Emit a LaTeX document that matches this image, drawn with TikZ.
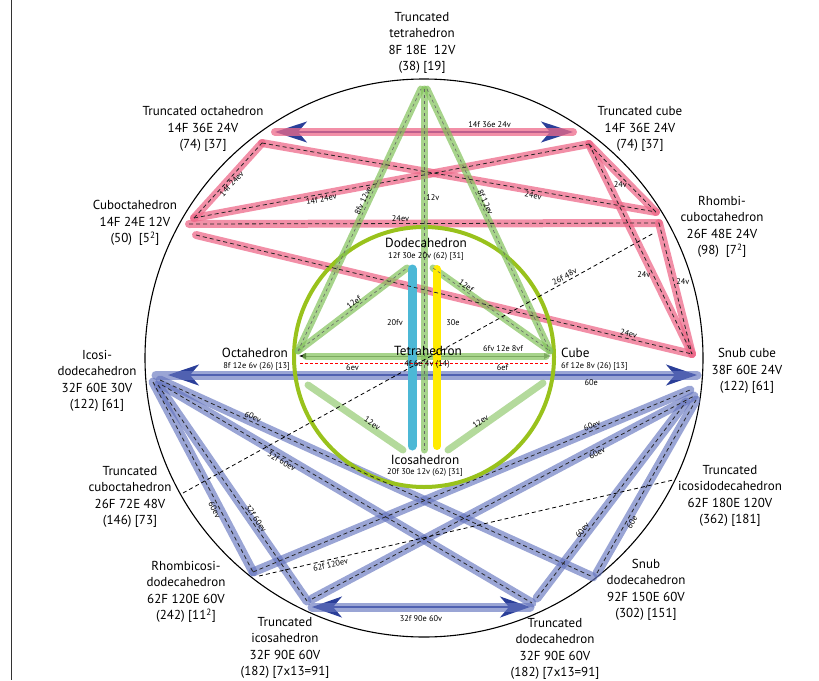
\documentclass[tikz,border=0pt]{standalone}
\usepackage{fontspec}
\setmainfont{PT Sans}
\usetikzlibrary{arrows.meta}
\definecolor{rule-line}{HTML}{333333}
\definecolor{pink-band}{HTML}{EE6A8A}
\definecolor{blue-band}{HTML}{6474BE}
\definecolor{green-band}{HTML}{82C25A}
\definecolor{lime-ring}{HTML}{99C21C}
\definecolor{cyan-bar}{HTML}{4CB8D6}
\definecolor{yellow-bar}{HTML}{FFEB00}
\definecolor{arrow-blue}{HTML}{2B3F99}
\tikzset{
  pband/.style={draw=pink-band, draw opacity=0.75, line width=8pt, line cap=round},
  bband/.style={draw=blue-band, draw opacity=0.65, line width=9pt, line cap=round},
  gband/.style={draw=green-band, draw opacity=0.7, line width=7pt, line cap=round},
  cdash/.style={draw=black!85, line width=0.8pt, dash pattern=on 4pt off 3pt},
  gdash/.style={draw=black!60, line width=0.6pt, dash pattern=on 3pt off 3pt},
  darrow/.style={draw=arrow-blue, line width=2.5pt,
    {Stealth[length=#1, width=21pt, inset=9pt]}-{Stealth[length=#1, width=21pt, inset=9pt]}},
  plabel/.style={font=\fontsize{13}{16.4}\selectfont, align=center, inner sep=0pt},
  ilabel/.style={font=\fontsize{13.2}{14}\selectfont, inner sep=0pt},
  isub/.style={font=\fontsize{8.4}{9}\selectfont, inner sep=0pt},
  elabel/.style={font=\fontsize{8.3}{9}\selectfont, text=black, inner sep=1.5pt, sloped},
  hlabel/.style={font=\fontsize{8.3}{9}\selectfont, text=black, inner sep=2pt}
}

\begin{document}
\begin{tikzpicture}[x=1pt, y=-1pt]
  \useasboundingbox (0,0) rectangle (819,680);

  % ---- Frame: rule on the left, outer circle --------------------------------
  \draw[rule-line, line width=1.2pt] (11.5,0) -- (11.5,680);
  \draw[black, line width=1.1pt] (424,358) circle[radius=279];

  % ---- Vertex points --------------------------------------------------------
  % pink group
  \coordinate (to-tip) at (275,132);
  \coordinate (tc-tip) at (573,132);
  \coordinate (to)     at (262,143);
  \coordinate (tc)     at (589,144);
  \coordinate (co-a)   at (194,218);
  \coordinate (co-b)   at (189,224);
  \coordinate (co-c)   at (196,235);
  \coordinate (rc-a)   at (656,212);
  \coordinate (rc-b)   at (659,223);
  \coordinate (sc)     at (692,354);
  % blue group
  \coordinate (id-tip)  at (168,375);
  \coordinate (snc-tip) at (697,375);
  \coordinate (id-1) at (160,380);
  \coordinate (id-2) at (162,385);
  \coordinate (id-3) at (153,382);
  \coordinate (id-4) at (158,385);
  \coordinate (snc-1) at (690,390);
  \coordinate (snc-2) at (694,396);
  \coordinate (snc-3) at (686,402);
  \coordinate (snc-4) at (696,400);
  \coordinate (ri)   at (253,572);
  \coordinate (ti-1) at (307,601);
  \coordinate (ti-2) at (312,599);
  \coordinate (td-1) at (532,603);
  \coordinate (td-2) at (537,598);
  \coordinate (sd-1) at (593,577);
  \coordinate (sd-2) at (597,573);
  \coordinate (ti-tip) at (312,607);
  \coordinate (td-tip) at (530,607);
  % green group
  \coordinate (tt-l) at (421,89);
  \coordinate (tt-m) at (424,89);
  \coordinate (tt-r) at (427,89);
  \coordinate (oct)  at (298,351);
  \coordinate (cube) at (550,351);
  \coordinate (oct-h)  at (299,356);
  \coordinate (cube-h) at (551,356);
  \coordinate (dod-l) at (407,268);
  \coordinate (dod-r) at (433,268);
  \coordinate (oct-lo)  at (308,385);
  \coordinate (ico-l)   at (403,450);
  \coordinate (ico-m)   at (424,450);
  \coordinate (ico-r)   at (448,450);
  \coordinate (cube-lo) at (543,383);
  % loose dashed lines
  \coordinate (rc-d)  at (654,233);
  \coordinate (tco-d) at (183,493);
  \coordinate (ri-d)  at (259,576);
  \coordinate (tid-d) at (673,480);
  \coordinate (oct-r)  at (300,363);
  \coordinate (cube-r) at (550,363);

  % ---- Edge lists: from/to/pos/anchor/label ---------------------------------
  \def\pinkedges{co-a/to/0.5/north/14f 24ev, to/rc-a/0.69/north/24ev,
    co-a/tc/0.32/north/14f 24ev, co-b/rc-b/0.45/south/24ev,
    co-c/sc/0.87/south/24ev}
  \def\pinkshort{tc/rc-a/0.6/east, tc/sc/0.62/east, rc-b/sc/0.45/west}
  \def\blueedges{id-1/sd-1/0.21/south/60ev, id-2/td-1/0.33/north/32f 60ev,
    id-3/ri/0.66/north/60ev, id-4/ti-1/0.63/south/32f 60ev,
    ri/snc-1/0.78/south/60ev, ti-2/snc-2/0.74/north/60ev,
    td-2/snc-3/0.33/south/60ev, sd-2/snc-4/0.31/north/60e}
  \def\greenedges{oct/tt-l/0.565/south/8fv 12ve, tt-r/cube/0.44/south/8f 12ev,
    oct/dod-l/0.54/south/12ef, dod-r/cube/0.26/south/12ef}
  \def\greenplain{oct-lo/ico-l/0.65/south/12ev, ico-r/cube-lo/0.37/south/12ev}

  % ---- Dark arrows under the bands ------------------------------------------
  \draw[darrow=32pt] (to-tip) -- (tc-tip);
  \draw[darrow=31pt] (id-tip) -- (snc-tip);
  \draw[darrow=30pt] (ti-tip) -- (td-tip);

  % ---- Bands ----------------------------------------------------------------
  \draw[pband] (to-tip) -- (tc-tip);
  \foreach \a/\b/\p/\s/\t in \pinkedges {\draw[pband] (\a) -- (\b);}
  \foreach \a/\b/\p/\s in \pinkshort {\draw[pband] (\a) -- (\b);}
  \draw[bband] (id-tip) ++(-12,0) -- (snc-tip);
  \draw[bband] (ti-tip) -- (td-tip);
  \foreach \a/\b/\p/\s/\t in \blueedges {\draw[bband] (\a) -- (\b);}

  \draw[lime-ring, line width=4pt] (424,357) circle[radius=130];

  \draw[black!55, line width=0.8pt,
    {Latex[length=7pt, width=6pt, black]}-{Latex[length=7pt, width=6pt]}] (oct-h) -- (cube-h);
  \draw[gband, shorten <=7pt, shorten >=5pt] (oct-h) -- (cube-h);
  \foreach \a/\b/\p/\s/\t in \greenedges {\draw[gband] (\a) -- (\b);}
  \foreach \a/\b/\p/\s/\t in \greenplain {\draw[gband, draw opacity=0.6] (\a) -- (\b);}
  \draw[gband] (tt-m) -- (ico-m);
  \draw[cyan-bar, line width=9pt, line cap=round] (412,269) -- (412,446);
  \draw[yellow-bar, line width=8pt, line cap=round] (437,269) -- (437,446);

  % ---- Dashed centre lines and their labels ---------------------------------
  \foreach \a/\b/\p/\s/\t [count=\k] in \pinkedges {
    \draw[cdash] (\a) -- (\b) node[elabel, pos=\p, anchor=\s] (pl-\k) {\t};
  }
  \foreach \a/\b/\p/\s [count=\k] in \pinkshort {
    \draw[cdash] (\a) -- (\b) node[hlabel, pos=\p, anchor=\s] (ps-\k) {24v};
  }
  \foreach \a/\b/\p/\s/\t [count=\k] in \blueedges {
    \draw[cdash] (\a) -- (\b) node[elabel, pos=\p, anchor=\s] (bl-\k) {\t};
  }
  \foreach \a/\b/\p/\s/\t [count=\k] in \greenedges {
    \draw[gdash] (\a) -- (\b) node[elabel, pos=\p, anchor=\s] (gl-\k) {\t};
  }
  \foreach \a/\b/\p/\s/\t [count=\k] in \greenplain {
    \path (\a) -- (\b) node[elabel, pos=\p, anchor=\s] (gp-\k) {\t};
  }
  \draw[gdash] (tt-m) -- (ico-m) node[hlabel, pos=0.3, anchor=west] (gv) {12v};

  \path (to-tip) -- (tc-tip) node[elabel, pos=0.72, anchor=south, yshift=3pt] (pa) {14f 36e 24v};
  \path (id-tip) -- (snc-tip) node[elabel, pos=0.8, anchor=north, yshift=-3pt] (ba) {60e};
  \path (ti-tip) -- (td-tip) node[elabel, pos=0.5, anchor=north, yshift=-7pt] (bb) {32f 90e 60v};
  \path (oct-h) -- (cube-h) node[elabel, pos=0.81, anchor=south, yshift=3pt] (gh) {6fv 12e 8vf};

  \draw[black, line width=0.8pt, dash pattern=on 4pt off 3pt] (tco-d) -- (rc-d)
    node[elabel, pos=0.815, anchor=south] (dl-1) {26f 48v};
  \draw[black, line width=0.8pt, dash pattern=on 4pt off 3pt] (ri-d) -- (tid-d)
    node[elabel, pos=0.17, anchor=north] (dl-2) {62f 120ev};
  \draw[red, line width=0.8pt, dash pattern=on 3pt off 2pt] (oct-r) -- (cube-r)
    node[elabel, pos=0.21, anchor=north] (rl-1) {6ev}
    node[elabel, pos=0.81, anchor=north] (rl-2) {6ef};

  \node[hlabel] (gf) at (395,323) {20fv};
  \node[hlabel] (ge) at (453,323) {30e};

  % ---- Platonic solids, inside the ring -------------------------------------
  \node[ilabel] (dodec) at (426,243) {Dodecahedron};
  \node[isub] (dodec-s) at (426,256) {12f 30e 20v (62) [31]};
  \node[ilabel] (tetra) at (428,351) {Tetrahedron};
  \node[isub] (tetra-s) at (427,364) {4f 6e 4v (14)};
  \node[ilabel, anchor=east] (octa) at (288,353) {Octahedron};
  \node[isub, anchor=east] (octa-s) at (290,366) {8f 12e 6v (26) [13]};
  \node[ilabel, anchor=west] (cube-n) at (561,353) {Cube};
  \node[isub, anchor=west] (cube-s) at (561,366) {6f 12e 8v (26) [13]};
  \node[ilabel] (icosa) at (425,460) {Icosahedron};
  \node[isub] (icosa-s) at (425,472) {20f 30e 12v (62) [31]};

  % ---- Archimedean solids, round the outer circle ---------------------------
  \node[plabel] (ttet) at (422,43) {Truncated\\tetrahedron\\8F 18E~ 12V\\(38) [19]};
  \node[plabel] (toct) at (203,129) {Truncated octahedron\\14F 36E 24V\\(74) [37]};
  \node[plabel] (tcub) at (640,129) {Truncated cube\\14F 36E 24V\\(74) [37]};
  \node[plabel] (cuboct) at (135,223) {Cuboctahedron\\14F 24E 12V\\(50)~ [5\textsuperscript{2}]};
  \node[plabel] (rhcub) at (722,227) {Rhombi-\\cuboctahedron\\26F 48E 24V\\(98)~ [7\textsuperscript{2}]};
  \node[plabel] (icosid) at (97,381) {Icosi-\\dodecahedron\\32F 60E 30V\\(122) [61]};
  \node[plabel] (snubc) at (747,371) {Snub cube\\38F 60E 24V\\(122) [61]};
  \node[plabel] (tcuboct) at (130,497) {Truncated\\cuboctahedron\\26F 72E 48V\\(146) [73]};
  \node[plabel] (ticosid) at (730,496) {Truncated\\icosidodecahedron\\62F 180E 120V\\(362) [181]};
  \node[plabel] (rhicosid) at (186,592) {Rhombicosi-\\dodecahedron\\62F 120E 60V\\(242) [11\textsuperscript{2}]};
  \node[plabel] (snubd) at (646,590) {Snub\\dodecahedron\\92F 150E 60V\\(302) [151]};
  \node[plabel] (ticos) at (285,648) {Truncated\\icosahedron\\32F 90E 60V\\(182) [7x13=91]};
  \node[plabel] (tdod) at (555,649) {Truncated\\dodecahedron\\32F 90E 60V\\(182) [7x13=91]};

\end{tikzpicture}
\end{document}
